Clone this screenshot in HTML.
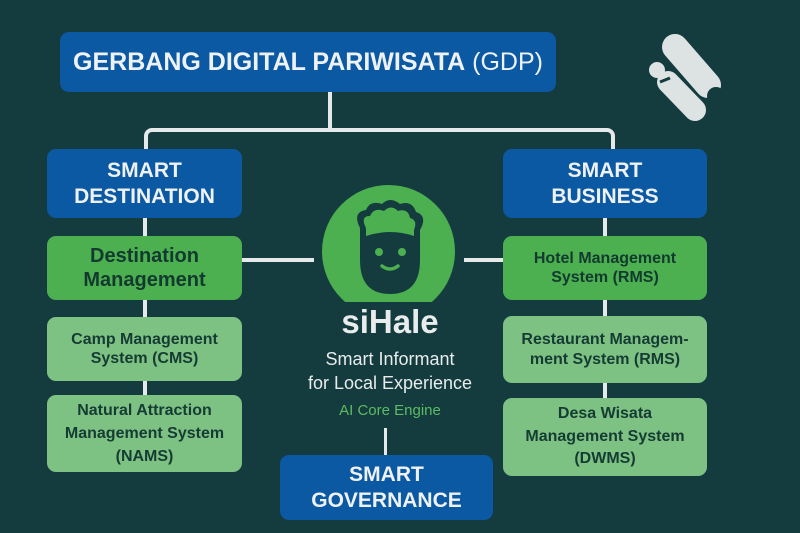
<!DOCTYPE html>
<html><head><meta charset="utf-8"><style>
*{margin:0;padding:0;box-sizing:border-box}
body{width:800px;height:533px;background:#143c3f;position:relative;overflow:hidden;font-family:"Liberation Sans",sans-serif}
.b{position:absolute;border-radius:9px;display:flex;align-items:center;justify-content:center;text-align:center;font-weight:bold;line-height:1.2}
.blue{background:#0b58a3;color:#eef2f5;font-size:21px}
.g1{background:#4caf50;color:#133a2e;font-size:20px}
.g2{background:#7dc283;color:#153b33;font-size:16px}
.l{position:absolute;background:#e6e9ea}
</style></head><body>
<div class="l" style="left:328px;top:92px;width:4px;height:40px"></div>
<div style="position:absolute;left:144px;top:128px;width:471px;height:26px;border:4px solid #e6e9ea;border-bottom:none;border-radius:8px 8px 0 0"></div>
<div class="l" style="left:143px;top:215px;width:4px;height:185px"></div>
<div class="l" style="left:603px;top:215px;width:4px;height:185px"></div>
<div class="l" style="left:242px;top:258px;width:72px;height:4px"></div>
<div class="l" style="left:464px;top:258px;width:40px;height:4px"></div>
<div class="l" style="left:384px;top:428px;width:3px;height:30px"></div>
<div class="b blue" style="left:60px;top:32px;width:496px;height:60px;font-size:25px">GERBANG DIGITAL PARIWISATA <span style="font-weight:normal">&nbsp;(GDP)</span></div>
<div class="b blue" style="left:47px;top:149px;width:195px;height:69px">SMART<br>DESTINATION</div>
<div class="b blue" style="left:503px;top:149px;width:204px;height:69px">SMART<br>BUSINESS</div>
<div class="b g1" style="left:47px;top:236px;width:195px;height:64px">Destination<br>Management</div>
<div class="b g2" style="left:47px;top:317px;width:195px;height:64px">Camp Management<br>System (CMS)</div>
<div class="b g2" style="left:47px;top:395px;width:195px;height:77px;line-height:1.45">Natural Attraction<br>Management System<br>(NAMS)</div>
<div class="b g1" style="left:503px;top:236px;width:204px;height:64px;font-size:16px">Hotel Management<br>System (RMS)</div>
<div class="b g2" style="left:503px;top:316px;width:204px;height:67px">Restaurant Managem-<br>ment System (RMS)</div>
<div class="b g2" style="left:503px;top:398px;width:204px;height:78px;line-height:1.4">Desa Wisata<br>Management System<br>(DWMS)</div>
<div class="b blue" style="left:280px;top:455px;width:213px;height:65px">SMART<br>GOVERNANCE</div>
<div style="position:absolute;left:322px;top:185px;width:133px;height:117px;overflow:hidden">
<div style="width:133px;height:133px;border-radius:50%;background:#4caf50"></div></div>
<svg style="position:absolute;left:348px;top:198px" width="84" height="105" viewBox="0 0 84 105">
<path d="M12 30 Q4 14 18 12 Q22 2 34 6 Q42 -2 52 6 Q64 2 68 14 Q80 18 72 32 L72 62 Q72 96 42 96 Q12 96 12 62 Z" fill="#143c3f"/>
<path d="M18 38 L18 30 Q12 18 22 18 Q26 9 36 13 Q43 6 50 13 Q60 10 62 20 Q70 22 66 32 L66 38 Q42 30 18 38Z" fill="#4caf50"/>
<circle cx="31" cy="54" r="4" fill="#4caf50"/><circle cx="54" cy="54" r="4" fill="#4caf50"/>
<path d="M34 68 Q42 74 50 68" stroke="#4caf50" stroke-width="3.5" fill="none" stroke-linecap="round"/>
</svg>
<div style="position:absolute;left:290px;top:303px;width:200px;text-align:center;color:#e8ecec;font-weight:bold;font-size:33px">siHale</div>
<div style="position:absolute;left:280px;top:347px;width:220px;text-align:center;color:#e8ecec;font-size:18px;line-height:24px">Smart Informant<br>for Local Experience</div>
<div style="position:absolute;left:290px;top:402px;width:200px;text-align:center;color:#5dbb63;font-size:15px">AI Core Engine</div>
<svg style="position:absolute;left:0;top:0" width="800" height="533">
<line x1="675" y1="47" x2="708" y2="85" stroke="#dde2e3" stroke-width="26" stroke-linecap="round"/>
<circle cx="716" cy="96" r="9" fill="#143c3f"/>
<circle cx="657" cy="70" r="8" fill="#dde2e3"/>
<line x1="668" y1="82" x2="695" y2="110" stroke="#dde2e3" stroke-width="22" stroke-linecap="round"/>
<line x1="660" y1="82" x2="670" y2="78" stroke="#143c3f" stroke-width="3"/>
</svg>
</body></html>
